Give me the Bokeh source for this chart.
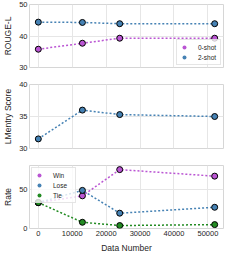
from bokeh.plotting import figure
from bokeh.layouts import column
from bokeh.models import Range1d, FixedTicker, NumeralTickFormatter, Legend, LegendItem, ColumnDataSource
from bokeh.embed import file_html
from bokeh.resources import INLINE

# ---- data ----
data_number = [0, 13000, 24000, 52000]
rouge_0shot = [35.8, 37.7, 39.3, 39.3]
rouge_2shot = [44.4, 44.3, 43.9, 43.9]
lmentry_score = [31.5, 36.0, 35.3, 35.0]
rate_win = [33.3, 42.0, 75.7, 67.3]
rate_lose = [33.3, 49.0, 19.7, 27.3]
rate_tie = [33.3, 8.0, 3.8, 5.0]
x_ticks = [0, 10000, 20000, 30000, 40000, 50000]

PURPLE = "#BA55D3"
BLUE = "#4682B4"
GREEN = "#228B22"
FONT = "Liberation Sans"
TXT = "#262626"
GRID = "#e6e6e6"
EDGE = "#d6d6d6"

W = 224


def make_fig(height, top, bottom, y_range, y_ticks, ylabel, show_x):
    p = figure(width=W, height=height, output_backend="svg", toolbar_location=None,
               x_range=Range1d(-2600, 54600), y_range=Range1d(*y_range),
               min_border_left=26, min_border_right=1,
               min_border_top=top, min_border_bottom=bottom)
    p.background_fill_color = "white"
    p.border_fill_color = "white"
    p.outline_line_color = EDGE
    p.outline_line_width = 1
    p.xgrid.ticker = FixedTicker(ticks=x_ticks)
    p.ygrid.ticker = FixedTicker(ticks=y_ticks)
    p.xgrid.grid_line_color = GRID
    p.ygrid.grid_line_color = GRID
    p.xgrid.grid_line_width = 1
    p.ygrid.grid_line_width = 1
    ya = p.yaxis[0]
    ya.ticker = FixedTicker(ticks=y_ticks)
    ya.axis_line_color = None
    ya.major_tick_line_color = None
    ya.minor_tick_line_color = None
    ya.major_tick_out = 0
    ya.major_label_standoff = 2
    ya.major_label_text_font = FONT
    ya.major_label_text_font_size = "7.5px"
    ya.major_label_text_color = TXT
    ya.axis_label = ylabel
    ya.axis_label_text_font = FONT
    ya.axis_label_text_font_size = "8.5px"
    ya.axis_label_text_font_style = "normal"
    ya.axis_label_text_color = TXT
    ya.axis_label_standoff = 3
    xa = p.xaxis[0]
    if show_x:
        xa.ticker = FixedTicker(ticks=x_ticks)
        xa.formatter = NumeralTickFormatter(format="0")
        xa.axis_line_color = None
        xa.major_tick_line_color = None
        xa.minor_tick_line_color = None
        xa.major_tick_out = 0
        xa.major_label_standoff = 2
        xa.major_label_text_font = FONT
        xa.major_label_text_font_size = "7.5px"
        xa.major_label_text_color = TXT
        xa.axis_label = "Data Number"
        xa.axis_label_text_font = FONT
        xa.axis_label_text_font_size = "8.5px"
        xa.axis_label_text_font_style = "normal"
        xa.axis_label_text_color = TXT
        xa.axis_label_standoff = 4
    else:
        xa.visible = False
    return p


def series(p, ys, color):
    src = ColumnDataSource(dict(x=data_number, y=ys))
    p.line("x", "y", source=src, line_color=color, line_width=1.5, line_dash="2 2")


def points(p, ys, color):
    src = ColumnDataSource(dict(x=data_number, y=ys))
    p.scatter("x", "y", source=src, marker="circle", size=6, fill_color=color,
              line_color="black", line_width=1)


def legend_dummy(p, color):
    # one point far outside the visible range: only its legend swatch is seen
    return p.scatter(x=[-1e7], y=[-1e7], marker="circle", size=7,
                     fill_color=color, line_color=None)


def style_legend(leg):
    leg.label_text_font = FONT
    leg.label_text_font_size = "6.5px"
    leg.label_text_color = TXT
    leg.glyph_width = 10
    leg.glyph_height = 10
    leg.label_height = 10
    leg.label_standoff = 9
    leg.padding = 2
    leg.spacing = 0
    leg.margin = 2
    leg.border_line_color = "#cccccc"
    leg.border_line_width = 1
    leg.background_fill_color = "white"
    leg.background_fill_alpha = 0.8


# panel 1
p1 = make_fig(75, 4, 8, (30, 50), [30, 40, 50], "ROUGE-L", False)
series(p1, rouge_0shot, PURPLE)
series(p1, rouge_2shot, BLUE)
points(p1, rouge_0shot, PURPLE)
points(p1, rouge_2shot, BLUE)
d0 = legend_dummy(p1, PURPLE)
d1 = legend_dummy(p1, BLUE)
leg1 = Legend(items=[LegendItem(label="0-shot", renderers=[d0]),
                     LegendItem(label="2-shot", renderers=[d1])],
              location="bottom_right")
style_legend(leg1)
p1.add_layout(leg1, "center")

# panel 2
p2 = make_fig(81, 9, 8, (30, 40), [30, 35, 40], "LMentry Score", False)
series(p2, lmentry_score, BLUE)
points(p2, lmentry_score, BLUE)

# panel 3
p3 = make_fig(99, 9, 26, (0, 81), [0, 50], "Rate", True)
series(p3, rate_win, PURPLE)
series(p3, rate_lose, BLUE)
series(p3, rate_tie, GREEN)
points(p3, rate_win, PURPLE)
points(p3, rate_lose, BLUE)
points(p3, rate_tie, GREEN)
e0 = legend_dummy(p3, PURPLE)
e1 = legend_dummy(p3, BLUE)
e2 = legend_dummy(p3, GREEN)
leg3 = Legend(items=[LegendItem(label="Win", renderers=[e0]),
                     LegendItem(label="Lose", renderers=[e1]),
                     LegendItem(label="Tie", renderers=[e2])],
              location="top_left")
style_legend(leg3)
p3.add_layout(leg3, "center")

layout = column(p1, p2, p3, spacing=0)
open("out.html", "w").write(file_html(layout, INLINE))
